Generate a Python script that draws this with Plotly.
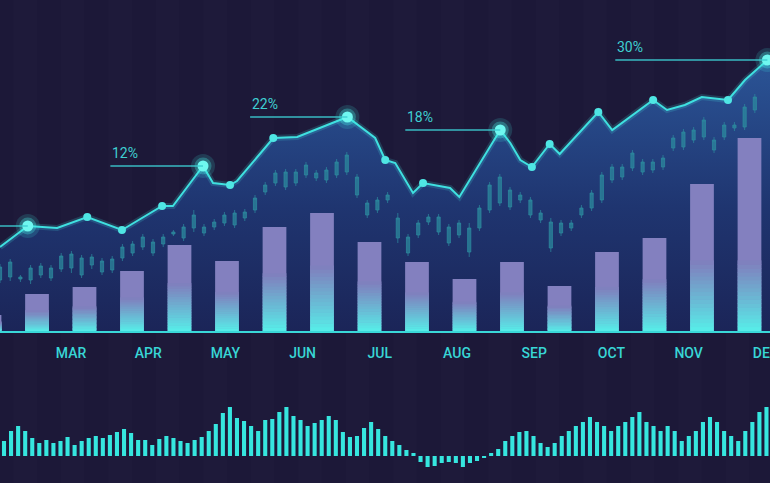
import plotly.graph_objects as go

# ---------------- DATA ----------------
months = ["MAR", "APR", "MAY", "JUN", "JUL", "AUG", "SEP", "OCT", "NOV", "DEC"]
month_pos = [2, 3, 4, 5, 6, 7, 8, 9, 10, 11]

# main bars (one per half-month slot)
bar_values = [16, 37, 44, 60, 86, 70, 104, 118, 89, 69, 52, 69, 45, 79, 93, 147, 193]

# trend line (time in months, value)
line_t = [1.08, 1.44, 1.82, 2.21, 2.66, 3.18, 3.32, 3.71, 3.84, 4.06, 4.15, 4.62, 4.93,
          5.58, 5.94, 6.07, 6.20, 6.43, 6.56, 6.91, 7.03, 7.56, 7.69, 7.82, 7.97, 8.20,
          8.33, 8.83, 9.01, 9.54, 9.72, 9.95, 10.17, 10.51, 10.73, 11.02, 11.12]
line_v = [84, 105, 103, 114, 101, 125, 125, 165, 148, 146, 150, 193, 194,
          214, 193, 171, 168, 138, 148, 143, 134, 201, 188, 171, 164, 187,
          177, 219, 201, 231, 221, 226, 234, 231, 251, 271, 275]
major_idx = [1, 7, 13, 21, 35]
minor_idx = [3, 4, 5, 9, 11, 15, 18, 24, 25, 27, 29, 33]
callout_text = ["", "12%", "22%", "18%", "30%"]
callout_len = [1.2, 1.2, 1.26, 1.23, 1.97]

# candlesticks
c_open = [51, 54, 52, 51, 56, 53, 62, 63, 56, 66, 59, 61, 73, 78, 84, 78, 87, 97, 93, 103,
          98, 104, 108, 106, 113, 121, 139, 148, 144, 148, 156, 153, 151, 156, 159, 136, 116, 121, 131, 93,
          78, 96, 109, 99, 88, 96, 79, 103, 121, 128, 124, 131, 116, 111, 83, 98, 103, 116, 123, 131,
          151, 154, 163, 159, 161, 164, 183, 184, 191, 194, 181, 194, 203, 204, 221]
c_close = [64, 69, 54, 63, 65, 63, 75, 77, 73, 74, 70, 72, 84, 87, 94, 89, 94, 99, 104, 116,
           104, 109, 116, 118, 119, 133, 146, 158, 159, 159, 166, 158, 161, 169, 176, 154, 128, 131, 136, 113,
           94, 108, 114, 114, 104, 108, 103, 123, 146, 154, 141, 136, 131, 118, 109, 108, 108, 123, 138, 156,
           164, 164, 178, 169, 169, 173, 193, 199, 201, 211, 191, 206, 206, 224, 234]
c_high = [67, 72, 56, 66, 68, 66, 78, 80, 76, 77, 73, 75, 87, 90, 97, 92, 97, 101, 107, 121,
          107, 112, 119, 121, 122, 136, 149, 161, 162, 162, 169, 161, 164, 172, 179, 157, 131, 134, 139, 118,
          97, 111, 117, 117, 107, 111, 108, 126, 149, 157, 144, 139, 134, 121, 113, 111, 111, 126, 141, 159,
          167, 167, 181, 172, 172, 176, 196, 202, 204, 214, 194, 209, 209, 227, 237]
c_low = [48, 50, 49, 47, 53, 50, 59, 58, 53, 62, 56, 58, 70, 75, 81, 75, 84, 95, 90, 99,
         95, 101, 105, 103, 110, 118, 136, 145, 141, 145, 153, 150, 148, 153, 156, 133, 113, 118, 128, 88,
         75, 93, 106, 96, 85, 93, 74, 100, 118, 125, 121, 128, 113, 108, 79, 95, 100, 113, 120, 128,
         148, 151, 160, 156, 158, 161, 180, 181, 188, 191, 178, 191, 200, 201, 218]

# bottom volume-style bars
mini_values = [15, 25, 30, 25, 18, 13, 16, 13, 15, 19, 11, 15, 18, 20, 18, 21, 24, 27, 23, 16,
               16, 11, 17, 20, 18, 15, 13, 16, 19, 25, 32, 43, 49, 38, 35, 30, 25,
               36, 37, 44, 49, 40, 36, 30, 33, 36, 40, 36, 24, 19, 20, 28, 34, 27, 20, 15,
               11, 6, 3, -6, -11, -10, -7, -6, -7, -11, -7, -5, -2, 3, 7, 15,
               20, 24, 25, 20, 13, 9, 13, 20, 25, 30, 34, 39, 34, 30, 25, 30, 34, 39, 44,
               34, 30, 25, 30, 25, 15, 20, 25, 34, 39, 34, 25, 20, 15, 25, 34, 44, 49]

# ---------------- STYLE ----------------
BG = "#1c1838"
CYAN = "#3fe0e0"
LABEL_FONT = "Roboto, Liberation Sans Narrow, DejaVu Sans Condensed, sans-serif"
X_RANGE = [1.0803, 11.054]
Y_RANGE = [-152, 331]

fig = go.Figure()

# area below the trend line
fig.add_trace(go.Scatter(
    x=line_t, y=line_v, mode="none", fill="tozeroy",
    fillgradient=dict(type="vertical",
                      colorscale=[[0, "#1b2558"], [0.45, "#1f3570"], [1, "#2b5597"]]),
    xaxis="x", yaxis="y", hoverinfo="skip", showlegend=False))

# candlesticks
step_px = 10.2
cx = [2 + (i * step_px - 71) / 77.2 for i in range(len(c_open))]
ccol = "rgba(44,140,160,0.72)"
fig.add_trace(go.Candlestick(
    x=cx, open=c_open, close=c_close, high=c_high, low=c_low,
    increasing=dict(line=dict(color=ccol, width=1), fillcolor=ccol),
    decreasing=dict(line=dict(color=ccol, width=1), fillcolor=ccol),
    whiskerwidth=0, xaxis="x2", yaxis="y2", hoverinfo="skip", showlegend=False))

# main bars with vertical gradient (lavender top -> cyan base)
bx = list(range(len(bar_values)))
fig.add_trace(go.Bar(x=bx, y=bar_values, marker=dict(color="#8380bf", line=dict(width=0)),
                     width=0.5, xaxis="x3", yaxis="y3", hoverinfo="skip", showlegend=False))
N = 18
c0 = (86, 240, 234)
c1 = (128, 126, 189)
fade = [min(0.55 * h, 70) for h in bar_values]
for s in range(N):
    t = ((s + 0.5) / N) ** 0.9
    col = "rgb(%d,%d,%d)" % tuple(round(c0[k] + (c1[k] - c0[k]) * t) for k in range(3))
    fig.add_trace(go.Bar(
        x=bx, y=[f / N + 0.6 for f in fade], base=[f * s / N for f in fade],
        marker=dict(color=col, line=dict(width=0)), width=0.5,
        xaxis="x3", yaxis="y3", hoverinfo="skip", showlegend=False))

# trend line + glow markers
fig.add_trace(go.Scatter(x=line_t, y=line_v, mode="lines",
                         line=dict(color="rgba(70,230,230,0.18)", width=6),
                         xaxis="x4", yaxis="y4", hoverinfo="skip", showlegend=False))
fig.add_trace(go.Scatter(x=line_t, y=line_v, mode="lines",
                         line=dict(color=CYAN, width=2),
                         xaxis="x4", yaxis="y4", hoverinfo="skip", showlegend=False))
fig.add_trace(go.Scatter(x=[line_t[i] for i in minor_idx], y=[line_v[i] for i in minor_idx],
                         mode="markers", marker=dict(size=8, color="#4fe6e4"),
                         xaxis="x4", yaxis="y4", hoverinfo="skip", showlegend=False))
for sz, col in [(24, "rgba(70,245,235,0.15)"), (17, "rgba(70,245,235,0.3)"), (11, "#6ff7f0")]:
    fig.add_trace(go.Scatter(x=[line_t[i] for i in major_idx], y=[line_v[i] for i in major_idx],
                             mode="markers", marker=dict(size=sz, color=col),
                             xaxis="x4", yaxis="y4", hoverinfo="skip", showlegend=False))

# bottom bars
mx = list(range(len(mini_values)))
fig.add_trace(go.Bar(x=mx, y=mini_values, marker=dict(color="#36e6df", line=dict(width=0)),
                     width=0.58, xaxis="x5", yaxis="y5", hoverinfo="skip", showlegend=False))

# callouts
shapes = []
annotations = []
for txt, idx, ln in zip(callout_text, major_idx, callout_len):
    x1 = line_t[idx]
    x0 = x1 - ln
    shapes.append(dict(type="line", xref="x4", yref="y4", x0=x0, x1=x1,
                       y0=line_v[idx], y1=line_v[idx],
                       line=dict(color="rgba(60,205,210,0.9)", width=1.5), layer="above"))
    if txt:
        annotations.append(dict(text=txt, x=x0, y=line_v[idx], xref="x4", yref="y4",
                                xanchor="left", yanchor="bottom", yshift=3, showarrow=False,
                                font=dict(family=LABEL_FONT, size=14, color="#3fcfd2")))

# subtle background stripes
for k in range(len(bar_values)):
    shapes.append(dict(type="rect", xref="x3", yref="paper", x0=k - 0.5, x1=k,
                       y0=0, y1=1, fillcolor="rgba(255,255,255,0.012)",
                       line=dict(width=0), layer="below"))

hidden = dict(visible=False, showgrid=False, zeroline=False)
fig.update_layout(
    width=770, height=483, margin=dict(l=0, r=0, t=0, b=0, autoexpand=False),
    paper_bgcolor=BG, plot_bgcolor=BG, barmode="overlay", boxgap=0.55,
    showlegend=False, shapes=shapes, annotations=annotations,
    xaxis=dict(range=X_RANGE, domain=[0, 1], anchor="free", position=152 / 483,
               tickvals=month_pos, ticktext=months, ticks="", showline=False,
               showgrid=False, zeroline=False, ticklabelstandoff=12,
               ticklabeloverflow="allow", automargin=False,
               tickfont=dict(family=LABEL_FONT, size=14, color="#38d6d6", weight=500)),
    yaxis=dict(range=Y_RANGE, domain=[0, 1], showgrid=False, zeroline=False,
               showticklabels=False, automargin=False),
    xaxis2=dict(range=X_RANGE, overlaying="x", rangeslider=dict(visible=False), **hidden),
    yaxis2=dict(range=Y_RANGE, overlaying="y", **hidden),
    xaxis3=dict(range=[0.221, 16.432], overlaying="x", **hidden),
    yaxis3=dict(range=Y_RANGE, overlaying="y", **hidden),
    xaxis4=dict(range=X_RANGE, overlaying="x", **hidden),
    yaxis4=dict(range=Y_RANGE, overlaying="y", showgrid=False, showticklabels=False,
                zeroline=True, zerolinecolor="#3ad8d8", zerolinewidth=2.5, automargin=False),
    xaxis5=dict(range=[-0.567, 108.5], overlaying="x", **hidden),
    yaxis5=dict(range=[-27, 456], overlaying="y", **hidden),
)

fig.write_html("out.html",
               config={"displayModeBar": False},
               post_script="document.body.style.margin='0px';"
                           "document.body.style.overflow='hidden';"
                           "document.body.style.background='" + BG + "';")
